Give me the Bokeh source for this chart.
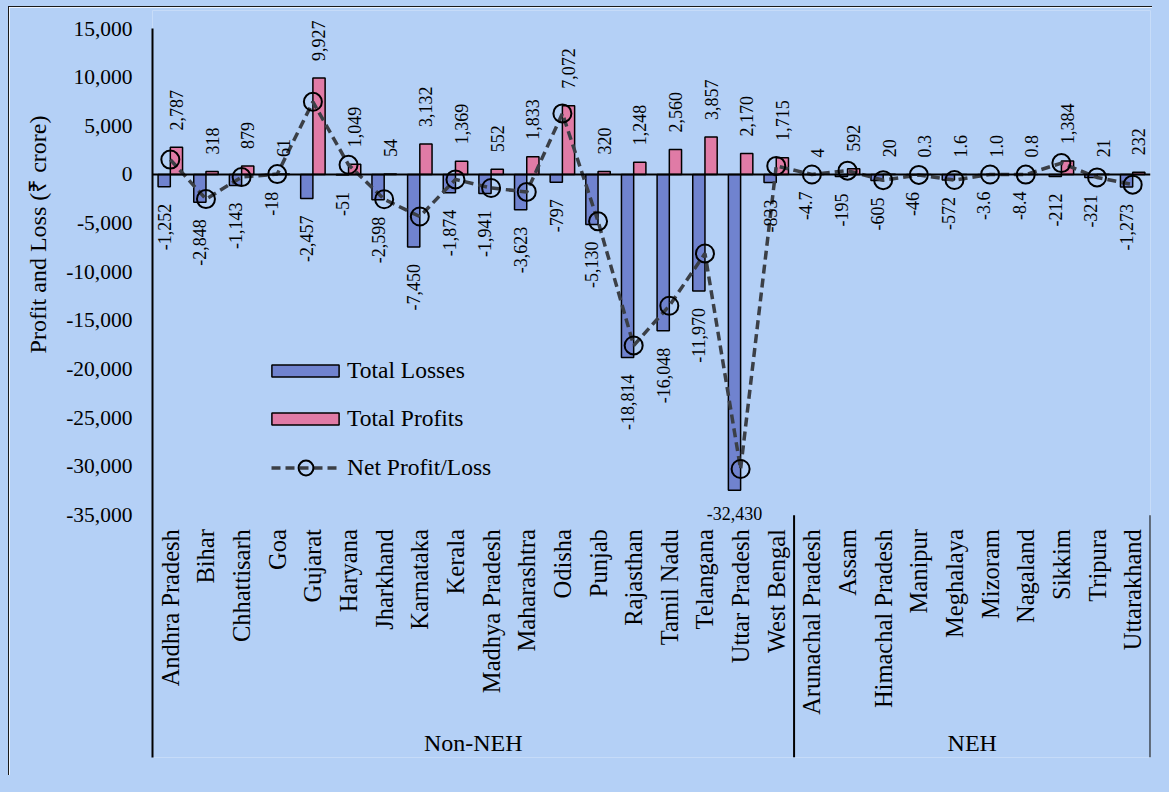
import math
from bokeh.plotting import figure
from bokeh.models import (FactorRange, Range1d, ColumnDataSource, Span, Legend, LegendItem,
                          FixedTicker, NumeralTickFormatter, LabelSet, Title)
from bokeh.transform import dodge
from bokeh.core.properties import value
from bokeh.embed import file_html
from bokeh.resources import INLINE

# ---------------- data ----------------
non_neh_states = ["Andhra Pradesh", "Bihar", "Chhattisarh", "Goa", "Gujarat", "Haryana",
                  "Jharkhand", "Karnataka", "Kerala", "Madhya Pradesh", "Maharashtra",
                  "Odisha", "Punjab", "Rajasthan", "Tamil Nadu", "Telangana",
                  "Uttar Pradesh", "West Bengal"]
neh_states = ["Arunachal Pradesh", "Assam", "Himachal Pradesh", "Manipur", "Meghalaya",
              "Mizoram", "Nagaland", "Sikkim", "Tripura", "Uttarakhand"]
groups = ["Non-NEH", "NEH"]

total_losses = [-1252, -2848, -1143, -18, -2457, -51, -2598, -7450, -1874, -1941, -3623,
                -797, -5130, -18814, -16048, -11970, -32430, -833,
                -4.7, -195, -605, -46, -572, -3.6, -8.4, -212, -321, -1273]
total_profits = [2787, 318, 879, 61, 9927, 1049, 54, 3132, 1369, 552, 1833,
                 7072, 320, 1248, 2560, 3857, 2170, 1715,
                 4, 592, 20, 0.3, 1.6, 1.0, 0.8, 1384, 21, 232]
net_profit_loss = [1535, -2530, -264, 43, 7470, 998, -2544, -4318, -505, -1389, -1790,
                   6275, -4810, -17566, -13488, -8113, -30260, 882,
                   -0.7, 397, -585, -45.7, -570.4, -2.6, -7.6, 1172, -300, -1041]
loss_labels = ["-1,252", "-2,848", "-1,143", "-18", "-2,457", "-51", "-2,598", "-7,450",
               "-1,874", "-1,941", "-3,623", "-797", "-5,130", "-18,814", "-16,048",
               "-11,970", "-32,430", "-833",
               "-4.7", "-195", "-605", "-46", "-572", "-3.6", "-8.4", "-212", "-321", "-1,273"]
profit_labels = ["2,787", "318", "879", "61", "9,927", "1,049", "54", "3,132", "1,369",
                 "552", "1,833", "7,072", "320", "1,248", "2,560", "3,857", "2,170", "1,715",
                 "4", "592", "20", "0.3", "1.6", "1.0", "0.8", "1,384", "21", "232"]
y_ticks = [-35000, -30000, -25000, -20000, -15000, -10000, -5000, 0, 5000, 10000, 15000]
horizontal_loss_label_states = ["Uttar Pradesh"]
y_title = "Profit and Loss (₹ crore)"

# ---------------- style ----------------
FONT = "Liberation Serif"
BG = "#B4D0F6"
LOSS_COLOR = "#7083CF"
PROFIT_COLOR = "#E07BA6"
NET_COLOR = "#3B3F46"
BAR_W = 0.343
HALF = BAR_W / 2
Y_TOP = 16850      # a little head-room above the top tick for the data labels
Y_BOTTOM = -59900  # room below the lowest tick for the category labels

states = non_neh_states + neh_states
n_states = len(states)

src = ColumnDataSource(dict(state=states, loss=total_losses, profit=total_profits,
                            net=net_profit_loss, loss_label=loss_labels,
                            profit_label=profit_labels))
rot_idx = [i for i, s in enumerate(states) if s not in horizontal_loss_label_states]
hor_idx = [i for i, s in enumerate(states) if s in horizontal_loss_label_states]
rot_loss_src = ColumnDataSource(dict(state=[states[i] for i in rot_idx],
                                     loss=[total_losses[i] for i in rot_idx],
                                     label=[loss_labels[i] for i in rot_idx]))
hor_loss_src = ColumnDataSource(dict(state=[states[i] for i in hor_idx],
                                     loss=[total_losses[i] for i in hor_idx],
                                     label=[loss_labels[i] for i in hor_idx]))

p = figure(width=1144, height=769,
           x_range=FactorRange(factors=states, range_padding=0),
           y_range=Range1d(Y_BOTTOM, Y_TOP),
           output_backend="svg", toolbar_location=None,
           min_border_left=143, min_border_right=3, min_border_top=3, min_border_bottom=19,
           background_fill_color=BG, border_fill_color=BG, outline_line_color=None)
p.styles = {"margin-left": "8px", "margin-top": "6px",
            "border-left": "1.3px solid #1a1a1a", "border-top": "1.3px solid #1a1a1a",
            "box-shadow": "0 0 0 30px " + BG}

p.xaxis.visible = False
p.xgrid.visible = False
p.ygrid.visible = False

yax = p.yaxis[0]
yax.ticker = FixedTicker(ticks=y_ticks)
yax.bounds = (Y_BOTTOM, y_ticks[-1])
yax.formatter = NumeralTickFormatter(format="0,0")
yax.major_tick_out = 0
yax.major_tick_in = 0
yax.minor_tick_out = 0
yax.minor_tick_in = 0
yax.major_label_standoff = 20
yax.major_label_text_font = FONT
yax.major_label_text_font_size = "21.5px"
yax.major_label_text_color = "black"
yax.axis_line_color = "black"
yax.axis_line_width = 2

# y axis title
p.add_layout(Title(text=y_title, align="right", offset=105, standoff=25, text_font=FONT,
                   text_font_size="24px", text_font_style="normal", text_color="black"),
             "left")

# bars
loss_r = p.vbar(x=dodge("state", -HALF, range=p.x_range), top="loss", bottom=0, width=BAR_W,
                source=src, fill_color=LOSS_COLOR, line_color="black", line_width=1.5)
prof_r = p.vbar(x=dodge("state", HALF, range=p.x_range), top="profit", bottom=0, width=BAR_W,
                source=src, fill_color=PROFIT_COLOR, line_color="black", line_width=1.5)

# zero line
p.add_layout(Span(location=0, dimension="width", line_color="black", line_width=2))

# net line
line_r = p.line(x="state", y="net", source=src, line_color=NET_COLOR, line_width=3.5,
                line_dash="9 5")
mark_r = p.scatter(x="state", y="net", source=src, marker="circle", size=18,
                   fill_color=None, line_color="black", line_width=2)

# data labels
p.add_layout(LabelSet(x=dodge("state", HALF, range=p.x_range), y="profit", text="profit_label",
                      source=src, angle=math.pi / 2, text_align="left",
                      text_baseline="middle", y_offset=17, text_font=FONT,
                      text_font_size="18px", text_color="black"))
p.add_layout(LabelSet(x=dodge("state", -HALF, range=p.x_range), y="loss", text="label",
                      source=rot_loss_src, angle=math.pi / 2, text_align="right",
                      text_baseline="middle", y_offset=-17, text_font=FONT,
                      text_font_size="18px", text_color="black"))
p.add_layout(LabelSet(x=dodge("state", -HALF, range=p.x_range), y="loss", text="label",
                      source=hor_loss_src, angle=0, text_align="center",
                      text_baseline="top", y_offset=-17, text_font=FONT,
                      text_font_size="18px", text_color="black"))

# category labels
cat_src = ColumnDataSource(dict(state=states, y=[y_ticks[0]] * n_states))
p.text(x="state", y="y", text="state", source=cat_src, angle=math.pi / 2,
       text_align="right", text_baseline="middle", y_offset=14,
       text_font=value(FONT), text_font_size="24.5px", text_color="black")

# group labels and separators (numeric synthetic coordinates on the factor range)
group_sizes = [len(non_neh_states), len(neh_states)]
starts = [0, group_sizes[0]]
group_src = ColumnDataSource(dict(x=[s + n / 2 for s, n in zip(starts, group_sizes)],
                                  y=[y_ticks[0]] * 2, text=groups))
p.text(x="x", y="y", text="text", source=group_src,
       text_align="center", text_baseline="middle", y_offset=228,
       text_font=value(FONT), text_font_size="24px", text_color="black")
sep_x = [group_sizes[0], group_sizes[0] + group_sizes[1]]
sep_src = ColumnDataSource(dict(x=sep_x, y0=[y_ticks[0]] * 2, y1=[Y_BOTTOM] * 2))
p.segment(x0="x", x1="x", y0="y0", y1="y1", source=sep_src,
          line_color="black", line_width=2)

# legends
leg1 = Legend(items=[LegendItem(label="Total Losses", renderers=[loss_r]),
                     LegendItem(label="Total Profits", renderers=[prof_r])],
              location=(111, 325), glyph_width=84, glyph_height=15, label_standoff=0,
              spacing=21, padding=0, margin=0, border_line_color=None,
              background_fill_alpha=0, label_text_font=FONT,
              label_text_font_size="23.5px", label_text_color="black")
leg2 = Legend(items=[LegendItem(label="Net Profit/Loss", renderers=[line_r, mark_r])],
              location=(119, 271), glyph_width=69, glyph_height=37, label_standoff=7,
              padding=0, margin=0, border_line_color=None,
              background_fill_alpha=0, label_text_font=FONT,
              label_text_font_size="23.5px", label_text_color="black")
p.add_layout(leg1)
p.add_layout(leg2)

open("out.html", "w").write(file_html(p, INLINE))
